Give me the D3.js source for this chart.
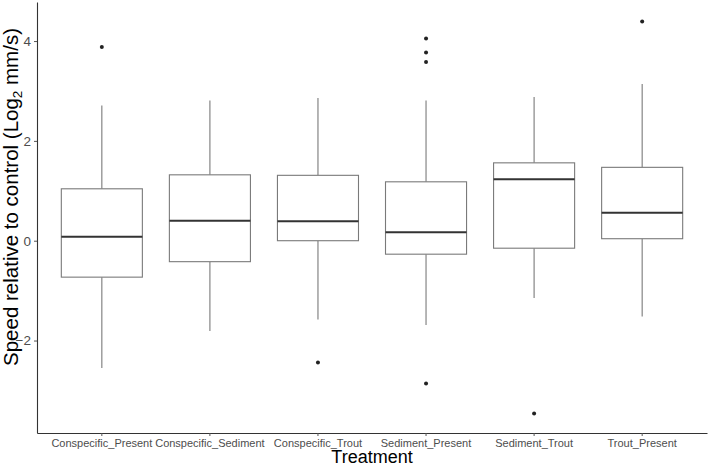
<!DOCTYPE html>
<html>
<head>
<meta charset="utf-8">
<script src="https://cdn.jsdelivr.net/npm/d3@7"></script>
<style>
  body { margin: 0; background: #fff; }
  text { font-family: "Liberation Sans", Arial, sans-serif; }
</style>
</head>
<body>
<svg id="chart"></svg>
<script>
// box stats (log2 speed relative to control)
const categories = ['Conspecific_Present', 'Conspecific_Sediment', 'Conspecific_Trout',
                    'Sediment_Present', 'Sediment_Trout', 'Trout_Present'];
const whiskerLow  = [-2.55, -1.81, -1.58, -1.69, -1.15, -1.52];
const q1          = [-0.73, -0.42,  0.00, -0.27, -0.15,  0.04];
const median      = [ 0.08,  0.40,  0.39,  0.17,  1.23,  0.56];
const q3          = [ 1.04,  1.32,  1.31,  1.18,  1.56,  1.47];
const whiskerHigh = [ 2.71,  2.81,  2.86,  2.81,  2.88,  3.14];
const outliers    = [[3.88], [], [-2.44], [4.05, 3.77, 3.58, -2.86], [-3.46], [4.39]];
const yTicks = [-2, 0, 2, 4];

const width = 709, height = 467;
const margin = { top: 2, right: 2, bottom: 34, left: 37 };

const svg = d3.select('#chart')
    .attr('width', width)
    .attr('height', height);

const x = d3.scaleBand()
    .domain(categories)
    .range([margin.left, width - margin.right])
    .paddingOuter(0.1)
    .paddingInner(0);

// ggplot style 5% expansion
const lo = d3.min([d3.min(whiskerLow), d3.min(outliers.flat())]);
const hi = d3.max([d3.max(whiskerHigh), d3.max(outliers.flat())]);
const pad = (hi - lo) * 0.05;
const y = d3.scaleLinear()
    .domain([lo - pad, hi + pad])
    .range([height - margin.bottom, margin.top]);

const boxW = x.bandwidth() * 0.75;

const rows = categories.map((c, i) => ({
    cat: c, lo: whiskerLow[i], q1: q1[i], med: median[i],
    q3: q3[i], hi: whiskerHigh[i], out: outliers[i]
}));

const g = svg.append('g');
const cx = d => x(d.cat) + x.bandwidth() / 2;
const boxColor = '#7a7a7a';

const box = g.selectAll('g.box')
    .data(rows)
    .join('g')
    .attr('class', 'box');

// whiskers
box.append('line')
    .attr('x1', cx).attr('x2', cx)
    .attr('y1', d => y(d.q3)).attr('y2', d => y(d.hi))
    .attr('stroke', boxColor).attr('stroke-width', 1.1);
box.append('line')
    .attr('x1', cx).attr('x2', cx)
    .attr('y1', d => y(d.q1)).attr('y2', d => y(d.lo))
    .attr('stroke', boxColor).attr('stroke-width', 1.1);

box.append('rect')
    .attr('x', d => cx(d) - boxW / 2)
    .attr('width', boxW)
    .attr('y', d => y(d.q3))
    .attr('height', d => y(d.q1) - y(d.q3))
    .attr('fill', '#fff')
    .attr('stroke', boxColor)
    .attr('stroke-width', 1.1);

box.append('line')
    .attr('x1', d => cx(d) - boxW / 2)
    .attr('x2', d => cx(d) + boxW / 2)
    .attr('y1', d => y(d.med)).attr('y2', d => y(d.med))
    .attr('stroke', '#333').attr('stroke-width', 2);

box.selectAll('circle')
    .data(d => d.out.map(v => ({ cat: d.cat, v })))
    .join('circle')
    .attr('cx', cx)
    .attr('cy', d => y(d.v))
    .attr('r', 2)
    .attr('fill', '#222');

// axes
const xAxis = svg.append('g')
    .attr('transform', `translate(0,${height - margin.bottom})`)
    .call(d3.axisBottom(x).tickSize(3).tickPadding(3).tickSizeOuter(0));
const yAxis = svg.append('g')
    .attr('transform', `translate(${margin.left},0)`)
    .call(d3.axisLeft(y).tickValues(yTicks).tickSize(3).tickPadding(3).tickSizeOuter(0));

[xAxis, yAxis].forEach(a => {
    a.select('.domain').attr('stroke', '#333').attr('stroke-width', 1.1);
    a.selectAll('.tick line').attr('stroke', '#555');
    a.selectAll('.tick text').attr('fill', '#4d4d4d');
});
xAxis.selectAll('.tick text').attr('font-size', 11);
yAxis.selectAll('.tick text').attr('font-size', 13.5);

svg.append('text')
    .attr('x', (margin.left + width - margin.right) / 2)
    .attr('y', 463)
    .attr('text-anchor', 'middle')
    .attr('font-size', 18)
    .attr('fill', '#000')
    .text('Treatment');

const yt = svg.append('text')
    .attr('transform', 'translate(18,197) rotate(-90)')
    .attr('text-anchor', 'middle')
    .attr('font-size', 20.5)
    .attr('fill', '#000');
yt.append('tspan').text('Speed relative to control (Log');
yt.append('tspan').attr('font-size', 13.5).attr('dy', 4).text('2');
yt.append('tspan').attr('dy', -4).text(' mm/s)');
</script>
</body>
</html>
